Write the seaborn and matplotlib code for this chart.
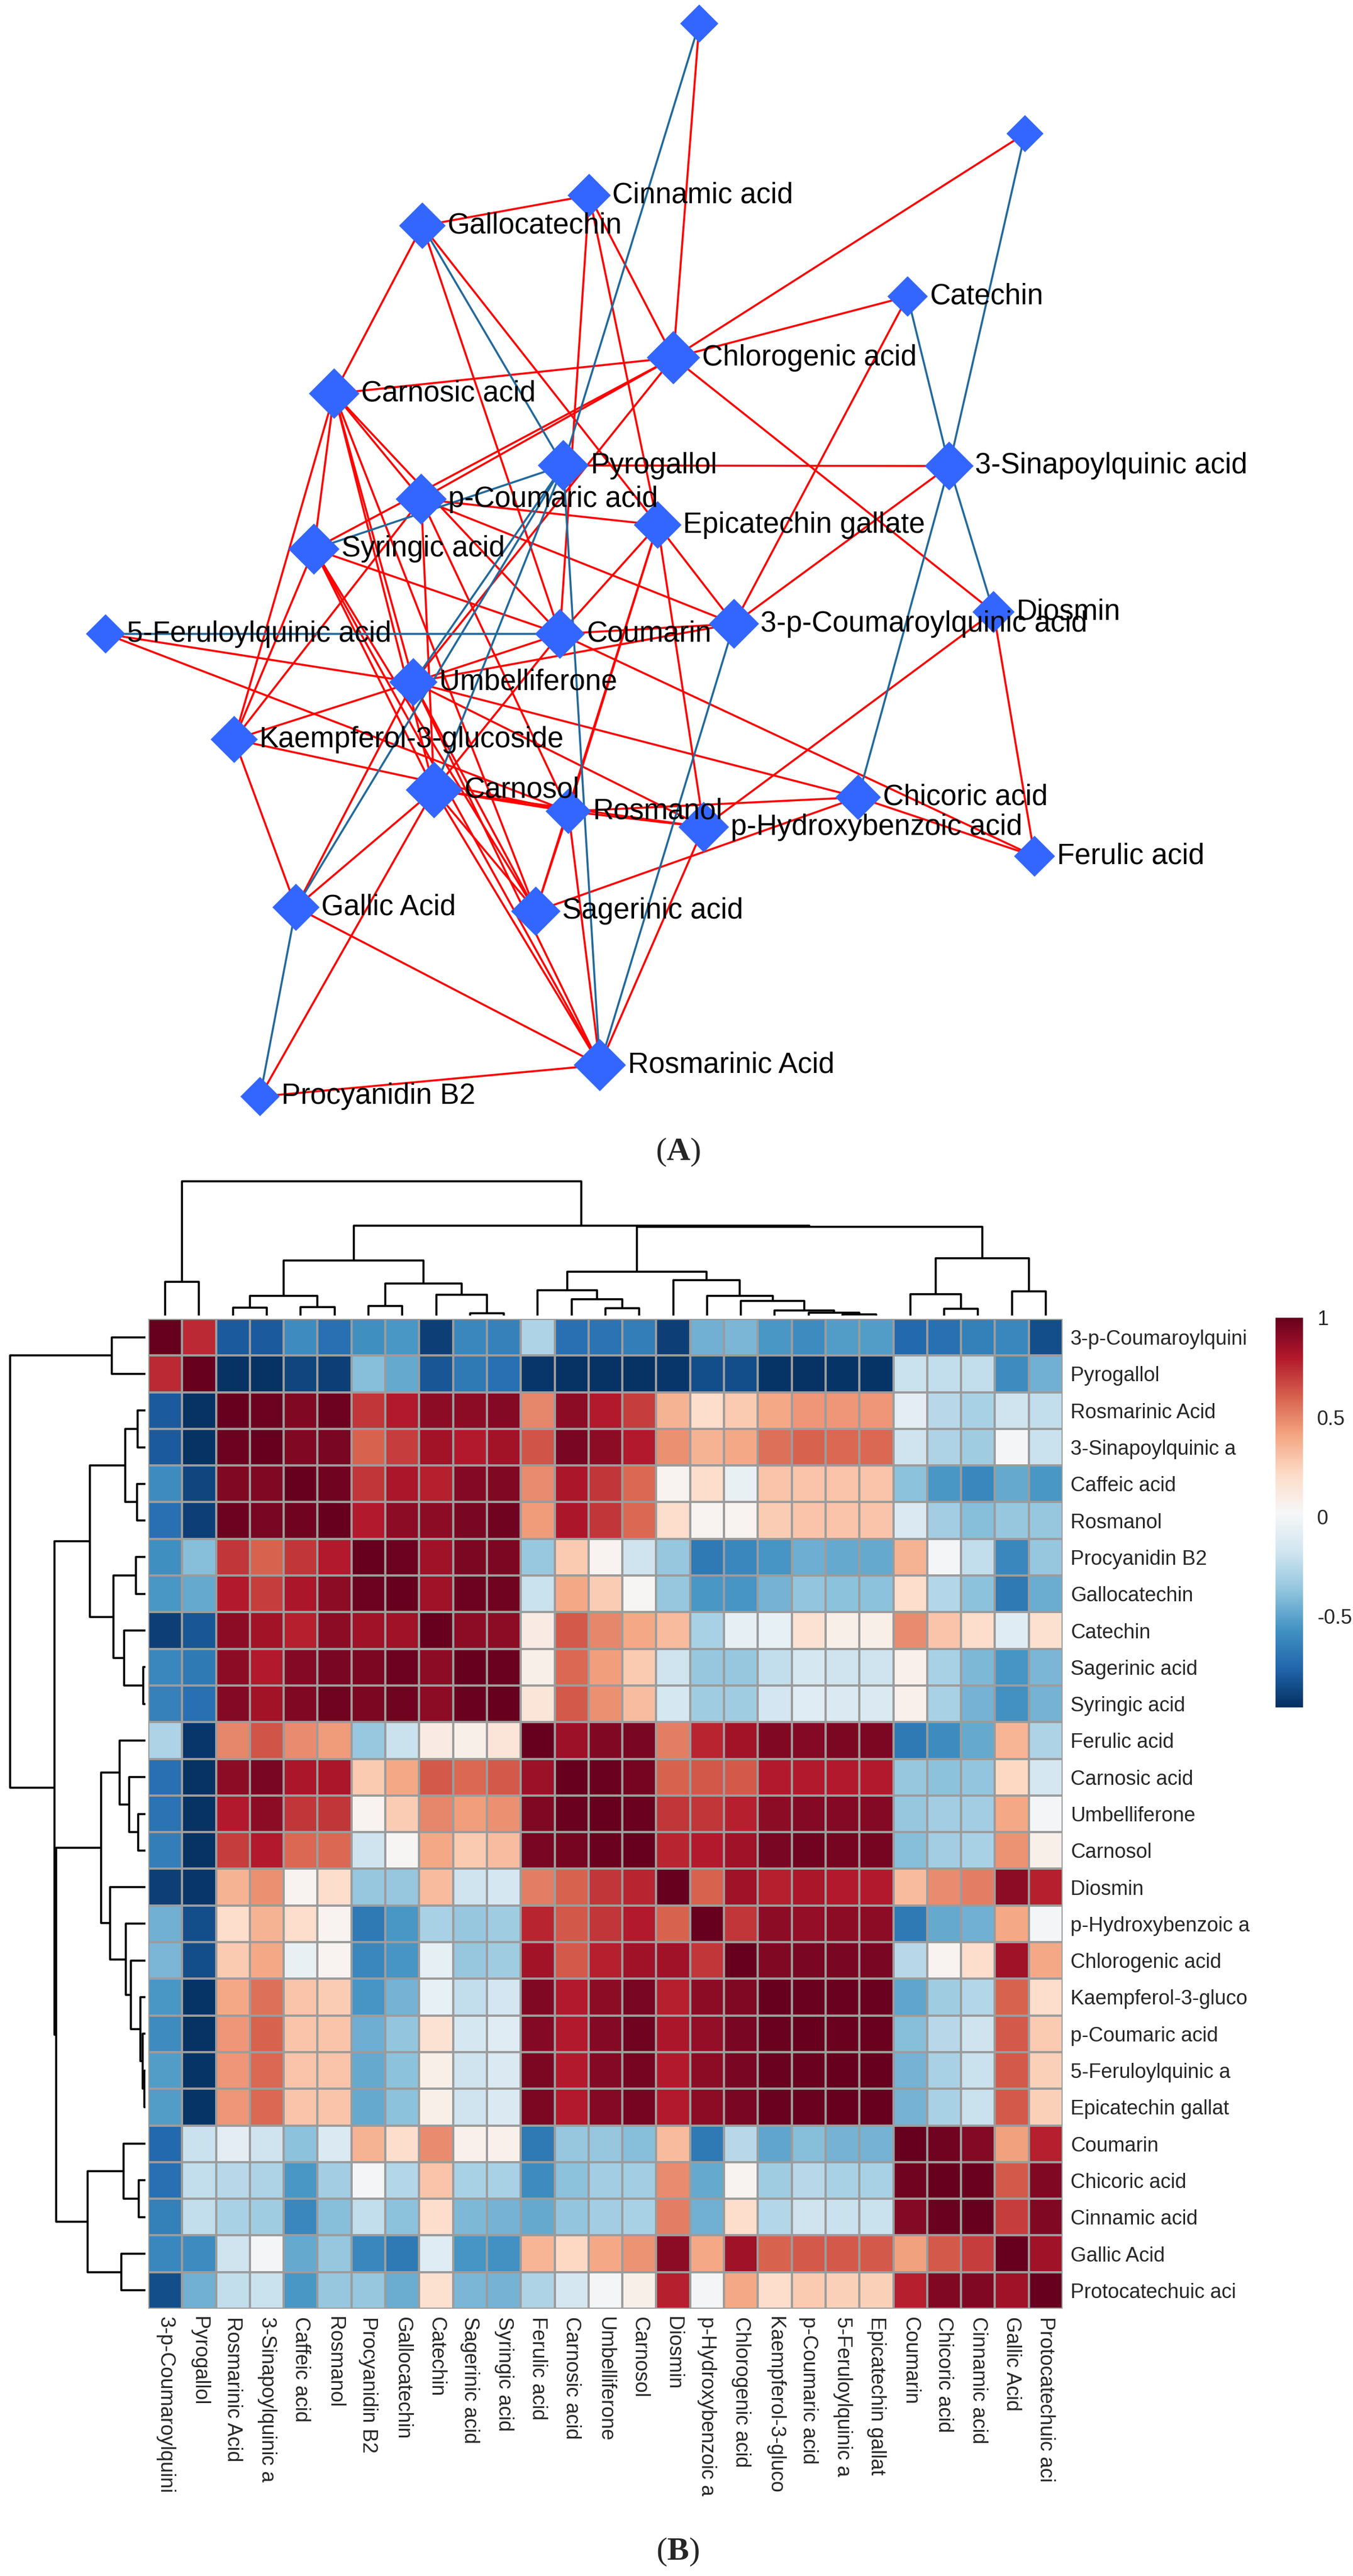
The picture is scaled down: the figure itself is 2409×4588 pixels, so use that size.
import numpy as np
import pandas as pd
import matplotlib
matplotlib.use("Agg")
import matplotlib.pyplot as plt
import seaborn as sns

sns.set_theme(style="white")
plt.rcParams["font.family"] = ["Liberation Sans", "DejaVu Sans"]
plt.rcParams["mathtext.fontset"] = "custom"
plt.rcParams["mathtext.rm"] = "Liberation Serif"
plt.rcParams["mathtext.bf"] = "Liberation Serif:bold"

W, H = 2409, 4588

# =======================
# (A) network: nodes (pixel positions)
# =======================
node_keys = ["Caf", "PCA", "Cin", "GC", "Cat", "Chl", "CarA", "3SQ", "Pyr", "pCA",
             "ECG", "Syr", "5FQ", "Cou", "3pC", "Dio", "Umb", "K3G", "Carn", "Rosm",
             "pHB", "Chic", "Fer", "GA", "Sag", "RA", "PB2"]
node_labels = ["", "", "Cinnamic acid", "Gallocatechin", "Catechin", "Chlorogenic acid",
               "Carnosic acid", "3-Sinapoylquinic acid", "Pyrogallol", "p-Coumaric acid",
               "Epicatechin gallate", "Syringic acid", "5-Feruloylquinic acid", "Coumarin",
               "3-p-Coumaroylquinic acid", "Diosmin", "Umbelliferone", "Kaempferol-3-glucoside",
               "Carnosol", "Rosmanol", "p-Hydroxybenzoic acid", "Chicoric acid", "Ferulic acid",
               "Gallic Acid", "Sagerinic acid", "Rosmarinic Acid", "Procyanidin B2"]
node_x = [1245, 1825, 1049, 752, 1616, 1199, 595, 1690, 1003, 750,
          1171, 559, 188, 997, 1307, 1769, 736, 417, 773, 1012,
          1253, 1528, 1842, 527, 954, 1068, 463]
node_y = [42, 238, 348, 402, 528, 637, 701, 830, 829, 889,
          935, 978, 1129, 1129, 1111, 1090, 1215, 1317, 1407, 1445,
          1473, 1420, 1525, 1616, 1623, 1897, 1953]
node_diag = [68, 66, 77, 83, 72, 95, 90, 87, 91, 91,
             85, 91, 70, 89, 89, 75, 86, 84, 101, 81,
             90, 81, 73, 84, 88, 93, 70]

# positive (red) and negative (blue) links
red_edges = [
    ("GC", "Cin"), ("GC", "CarA"), ("GC", "Cou"), ("GC", "ECG"),
    ("Cin", "Chl"), ("Cin", "ECG"), ("Cin", "Cou"),
    ("Caf", "Chl"), ("PCA", "Chl"), ("Cat", "Chl"), ("Cat", "3pC"),
    ("Chl", "CarA"), ("Chl", "Syr"), ("Chl", "pCA"), ("Chl", "Umb"), ("Chl", "Dio"),
    ("CarA", "Syr"), ("CarA", "pCA"), ("CarA", "Cou"), ("CarA", "Carn"),
    ("CarA", "Umb"), ("CarA", "Sag"), ("CarA", "K3G"),
    ("pCA", "ECG"), ("pCA", "3pC"), ("pCA", "Carn"), ("pCA", "Rosm"),
    ("Pyr", "3SQ"),
    ("ECG", "3pC"), ("ECG", "Cou"), ("ECG", "Rosm"), ("ECG", "pHB"), ("ECG", "Sag"),
    ("3SQ", "3pC"),
    ("Cou", "3pC"), ("Cou", "Umb"), ("Cou", "Syr"), ("Cou", "Fer"), ("Cou", "Carn"),
    ("Umb", "5FQ"), ("Umb", "K3G"), ("Umb", "Chic"), ("Umb", "Sag"), ("Umb", "pHB"),
    ("Umb", "3pC"), ("Umb", "RA"),
    ("5FQ", "Rosm"),
    ("K3G", "Syr"), ("K3G", "GA"), ("K3G", "Rosm"), ("K3G", "pCA"),
    ("Carn", "GA"), ("Carn", "PB2"), ("Carn", "Rosm"), ("Carn", "RA"), ("Carn", "Sag"),
    ("Carn", "Syr"), ("Carn", "pHB"),
    ("Rosm", "Chic"), ("Rosm", "pHB"), ("Rosm", "Sag"), ("Rosm", "RA"),
    ("pHB", "Dio"), ("pHB", "RA"),
    ("Dio", "Fer"), ("Chic", "Fer"), ("Chic", "Sag"),
    ("GA", "RA"), ("GA", "Umb"),
    ("Sag", "Syr"), ("RA", "PB2"), ("RA", "Syr"),
]
blue_edges = [
    ("Caf", "Pyr"), ("GC", "Pyr"), ("Pyr", "Syr"), ("Pyr", "Umb"), ("Pyr", "Carn"),
    ("Pyr", "GA"), ("Pyr", "RA"), ("5FQ", "Cou"), ("GA", "PB2"), ("3pC", "RA"),
    ("PCA", "3SQ"), ("3SQ", "Chic"), ("Cat", "3SQ"), ("3SQ", "Dio"),
]

# =======================
# (B) correlation heatmap (clustered order, lower triangle)
# =======================
hm_labels = ["3-p-Coumaroylquini", "Pyrogallol", "Rosmarinic Acid", "3-Sinapoylquinic a",
             "Caffeic acid", "Rosmanol", "Procyanidin B2", "Gallocatechin", "Catechin",
             "Sagerinic acid", "Syringic acid", "Ferulic acid", "Carnosic acid",
             "Umbelliferone", "Carnosol", "Diosmin", "p-Hydroxybenzoic a", "Chlorogenic acid",
             "Kaempferol-3-gluco", "p-Coumaric acid", "5-Feruloylquinic a", "Epicatechin gallat",
             "Coumarin", "Chicoric acid", "Cinnamic acid", "Gallic Acid", "Protocatechuic aci"]

lower_rows = [
    [1.0],
    [0.75, 1.0],
    [-0.8, -0.95, 1.0],
    [-0.8, -0.95, 0.98, 1.0],
    [-0.6, -0.88, 0.93, 0.93, 1.0],
    [-0.72, -0.9, 0.98, 0.95, 0.97, 1.0],
    [-0.58, -0.4, 0.72, 0.6, 0.72, 0.8, 1.0],
    [-0.55, -0.48, 0.8, 0.7, 0.82, 0.9, 0.98, 1.0],
    [-0.9, -0.82, 0.9, 0.84, 0.78, 0.9, 0.85, 0.85, 1.0],
    [-0.62, -0.68, 0.9, 0.8, 0.92, 0.95, 0.94, 0.98, 0.9, 1.0],
    [-0.64, -0.72, 0.92, 0.84, 0.93, 0.97, 0.94, 0.97, 0.9, 0.99, 1.0],
    [-0.28, -0.93, 0.5, 0.64, 0.48, 0.44, -0.35, -0.2, 0.1, 0.08, 0.15, 1.0],
    [-0.72, -0.95, 0.9, 0.95, 0.82, 0.82, 0.28, 0.4, 0.62, 0.58, 0.62, 0.86, 1.0],
    [-0.7, -0.95, 0.8, 0.9, 0.72, 0.72, 0.05, 0.27, 0.5, 0.43, 0.47, 0.93, 0.99, 1.0],
    [-0.66, -0.95, 0.7, 0.8, 0.58, 0.58, -0.18, 0.03, 0.4, 0.28, 0.32, 0.95, 0.96, 0.99, 1.0],
    [-0.9, -0.93, 0.36, 0.47, 0.05, 0.2, -0.36, -0.36, 0.33, -0.18, -0.15, 0.52, 0.6, 0.72,
     0.77, 1.0],
    [-0.45, -0.85, 0.2, 0.36, 0.2, 0.05, -0.68, -0.55, -0.3, -0.36, -0.33, 0.77, 0.63, 0.72,
     0.8, 0.6, 1.0],
    [-0.43, -0.85, 0.28, 0.4, -0.05, 0.05, -0.62, -0.56, -0.07, -0.36, -0.33, 0.84, 0.62, 0.78,
     0.85, 0.85, 0.72, 1.0],
    [-0.55, -0.94, 0.4, 0.56, 0.3, 0.27, -0.56, -0.44, -0.06, -0.22, -0.16, 0.93, 0.8, 0.9,
     0.95, 0.78, 0.9, 0.93, 1.0],
    [-0.6, -0.95, 0.45, 0.6, 0.3, 0.3, -0.46, -0.37, 0.17, -0.15, -0.1, 0.92, 0.8, 0.92,
     0.97, 0.82, 0.88, 0.95, 0.99, 1.0],
    [-0.53, -0.94, 0.45, 0.58, 0.3, 0.3, -0.48, -0.38, 0.08, -0.18, -0.12, 0.94, 0.8, 0.92,
     0.96, 0.8, 0.9, 0.95, 0.99, 0.99, 1.0],
    [-0.53, -0.94, 0.45, 0.58, 0.3, 0.3, -0.48, -0.38, 0.08, -0.18, -0.12, 0.94, 0.8, 0.92,
     0.96, 0.8, 0.9, 0.95, 0.99, 0.99, 1.0, 1.0],
    [-0.75, -0.2, -0.08, -0.18, -0.38, -0.12, 0.36, 0.2, 0.48, 0.07, 0.07, -0.68, -0.36, -0.36,
     -0.4, 0.33, -0.68, -0.25, -0.5, -0.4, -0.44, -0.44, 1.0],
    [-0.72, -0.22, -0.25, -0.28, -0.55, -0.32, 0.0, -0.27, 0.3, -0.3, -0.3, -0.6, -0.38, -0.32,
     -0.32, 0.48, -0.48, 0.05, -0.33, -0.25, -0.3, -0.3, 0.97, 1.0],
    [-0.65, -0.22, -0.3, -0.33, -0.62, -0.4, -0.22, -0.38, 0.2, -0.42, -0.44, -0.48, -0.37, -0.32,
     -0.3, 0.52, -0.45, 0.2, -0.27, -0.18, -0.2, -0.2, 0.92, 0.99, 1.0],
    [-0.62, -0.6, -0.18, 0.0, -0.48, -0.36, -0.62, -0.68, -0.1, -0.56, -0.57, 0.35, 0.22, 0.4,
     0.46, 0.9, 0.4, 0.85, 0.6, 0.62, 0.62, 0.62, 0.42, 0.62, 0.7, 1.0],
    [-0.85, -0.45, -0.22, -0.2, -0.55, -0.36, -0.36, -0.47, 0.18, -0.43, -0.44, -0.28, -0.15, 0.0,
     0.08, 0.78, 0.0, 0.4, 0.2, 0.28, 0.25, 0.25, 0.78, 0.93, 0.93, 0.85, 1.0],
]

# dendrogram (same for rows and columns): (left, right, height), leaves = position in order
clu_top = (0, 1, 0.25)
clu_a1 = ((2, 3, 0.057), (4, 5, 0.064), 0.148)
clu_a2 = ((6, 7, 0.07), (8, (9, 10, 0.016), 0.156), 0.238)
clu_b1 = (11, (12, (13, 14, 0.054), 0.122), 0.19)
chain_b2 = (20, 21, 0.007)
chain_b2 = (19, chain_b2, 0.019)
chain_b2 = (18, chain_b2, 0.037)
chain_b2 = (17, chain_b2, 0.108)
chain_b2 = (16, chain_b2, 0.146)
clu_b2 = (15, chain_b2, 0.262)
clu_c = ((22, (23, 24, 0.05), 0.161), (25, 26, 0.179), 0.428)
clu_a = (clu_a1, clu_a2, 0.41)
clu_b = (clu_b1, clu_b2, 0.326)
tree = (clu_top, (clu_a, (clu_b, clu_c, 0.659), 0.671), 1.0)

n = len(hm_labels)
corr = np.zeros((n, n))
for i, row in enumerate(lower_rows):
    for j, v in enumerate(row):
        corr[i, j] = v
        corr[j, i] = v
df = pd.DataFrame(corr, index=hm_labels, columns=hm_labels)


def frac(x0, y0, x1, y1):
    return [x0 / W, 1 - y1 / H, (x1 - x0) / W, (y1 - y0) / H]


fig = plt.figure(figsize=(W / 100, H / 100), dpi=100)

# ----- network -----
ax_net = fig.add_axes(frac(0, 0, W, 2060))
pos = {k: (x, y) for k, x, y in zip(node_keys, node_x, node_y)}
for a, b in red_edges:
    ax_net.plot([pos[a][0], pos[b][0]], [pos[a][1], pos[b][1]], color="#ff0000", lw=2.6,
                zorder=1, solid_capstyle="butt")
for a, b in blue_edges:
    ax_net.plot([pos[a][0], pos[b][0]], [pos[a][1], pos[b][1]], color="#22699c", lw=2.6,
                zorder=2, solid_capstyle="butt")
ms = np.array(node_diag) / (100 / 72) / np.sqrt(2)
ax_net.scatter(node_x, node_y, s=ms ** 2, marker="D", color="#3366ff", linewidths=0, zorder=3)
for lab, x, y, d in zip(node_labels, node_x, node_y, node_diag):
    if lab:
        ax_net.text(x + d / 2 + 3, y, lab, fontsize=37, va="center", ha="left",
                    color="black", zorder=4)
ax_net.set_xlim(0, W)
ax_net.set_ylim(2060, 0)
ax_net.axis("off")

fig.text(1207 / W, 1 - 2052 / H, r"$\mathrm{(}\mathbf{A}\mathrm{)}$", fontsize=42,
         ha="center", va="center")

# ----- heatmap -----
ax_hm = fig.add_axes(frac(264, 2349, 1892, 4112))
ax_cb = fig.add_axes(frac(2271, 2347, 2320, 3041))
sns.heatmap(df, ax=ax_hm, cmap="RdBu_r", vmin=-0.96, vmax=1, linewidths=2.6,
            linecolor="#9c9c9c", cbar_ax=ax_cb, xticklabels=hm_labels, yticklabels=hm_labels)
ax_hm.yaxis.tick_right()
ax_hm.set_yticklabels(hm_labels, rotation=0, ha="left", fontsize=26)
ax_hm.set_xticklabels(hm_labels, rotation=270, ha="center", va="top", fontsize=26)
ax_hm.tick_params(axis="both", length=0, pad=10)
ax_hm.set_xlabel("")
ax_hm.set_ylabel("")

cbar = ax_hm.collections[0].colorbar
cbar.set_ticks([1, 0.5, 0, -0.5])
cbar.set_ticklabels(["1", "0.5", "0", "-0.5"], fontsize=26)
cbar.outline.set_visible(False)
ax_cb.tick_params(length=0, pad=18)


def draw_tree(ax, node, orient):
    if isinstance(node, int):
        return node + 0.5, 0.0
    left, right, h = node
    pl, hl = draw_tree(ax, left, orient)
    pr, hr = draw_tree(ax, right, orient)
    a = [pl, pl, pr, pr]
    b = [hl, h, h, hr]
    if orient == "top":
        ax.plot(a, b, color="black", lw=2.6, clip_on=False, solid_capstyle="butt")
    else:
        ax.plot(b, a, color="black", lw=2.6, clip_on=False, solid_capstyle="butt")
    return (pl + pr) / 2, h


ax_cd = fig.add_axes(frac(264, 2104, 1892, 2343))
draw_tree(ax_cd, tree, "top")
ax_cd.set_xlim(0, n)
ax_cd.set_ylim(0, 1.0)
ax_cd.axis("off")

ax_rd = fig.add_axes(frac(18, 2349, 259, 4112))
draw_tree(ax_rd, tree, "left")
ax_rd.set_xlim(1.0, 0)
ax_rd.set_ylim(n, 0)
ax_rd.axis("off")

fig.text(1207 / W, 1 - 4545 / H, r"$\mathrm{(}\mathbf{B}\mathrm{)}$", fontsize=42,
         ha="center", va="center")

fig.savefig("out.png", dpi=100, facecolor="white")
